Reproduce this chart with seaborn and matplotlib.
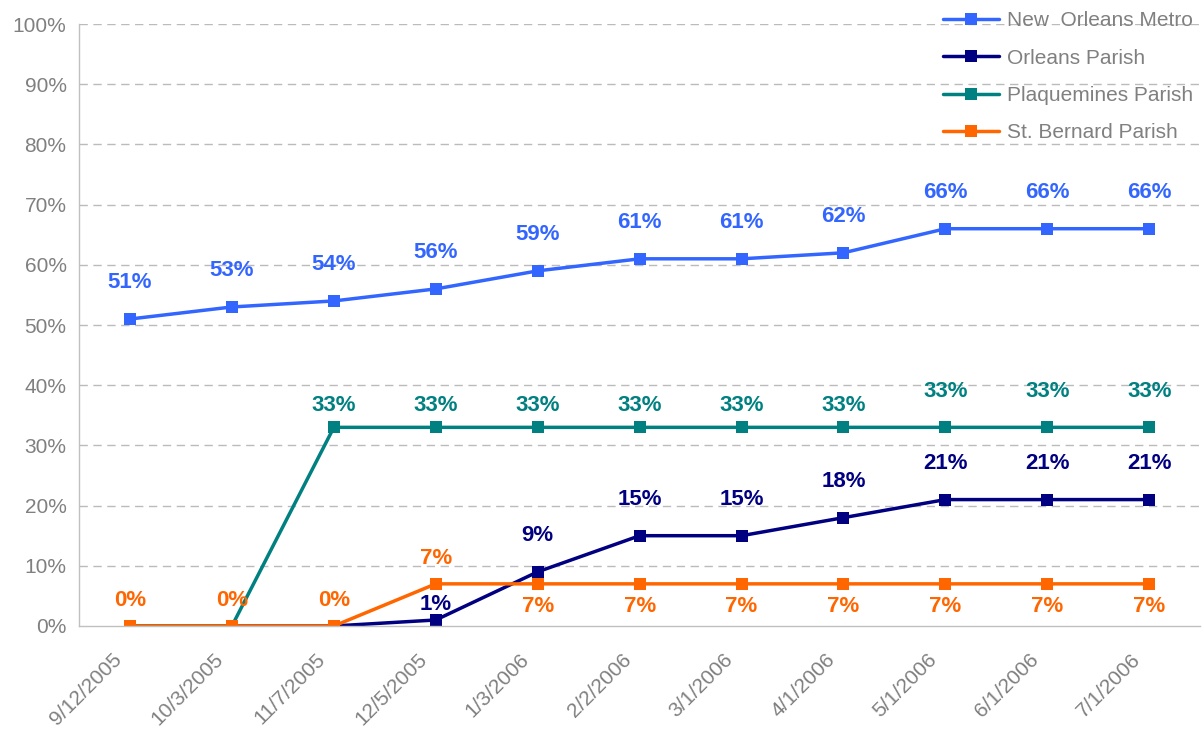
import pandas as pd
import seaborn as sns
import matplotlib.pyplot as plt
from matplotlib.ticker import FixedLocator, PercentFormatter
from matplotlib.transforms import ScaledTranslation

# survey dates (categorical x axis)
dates = ["9/12/2005", "10/3/2005", "11/7/2005", "12/5/2005", "1/3/2006",
         "2/2/2006", "3/1/2006", "4/1/2006", "5/1/2006", "6/1/2006", "7/1/2006"]

# percent values per area
metro = [51, 53, 54, 56, 59, 61, 61, 62, 66, 66, 66]
orleans = [0, 0, 0, 1, 9, 15, 15, 18, 21, 21, 21]
plaquemines = [0, 0, 33, 33, 33, 33, 33, 33, 33, 33, 33]
st_bernard = [0, 0, 0, 7, 7, 7, 7, 7, 7, 7, 7]

series_names = ["New  Orleans Metro", "Orleans Parish", "Plaquemines Parish", "St. Bernard Parish"]
series_values = [metro, orleans, plaquemines, st_bernard]
colors = ["#3366FF", "#000080", "#008080", "#FF6600"]

rows = []
for name, vals in zip(series_names, series_values):
    for i, v in enumerate(vals):
        rows.append({"pos": i, "value": v, "area": name})
df = pd.DataFrame(rows)

sns.set_style("white")
plt.rcParams["font.family"] = ["Liberation Sans", "DejaVu Sans"]

fig = plt.figure(figsize=(12.03, 7.29), dpi=100)
ax = fig.add_axes([0.0657, 0.1413, 0.932, 0.8257])

# horizontal dashed gridlines
for y in range(10, 101, 10):
    ax.axhline(y, color="#BBBBBB", lw=1, ls=(0, (6, 4)), zorder=0)

sns.lineplot(data=df, x="pos", y="value", hue="area", palette=colors,
             hue_order=series_names, marker="s", markersize=8.5, markeredgewidth=0,
             linewidth=2.5, sort=False, ax=ax, legend=True)

# data labels (which points are labelled and where, in points)
lab_kw = dict(ha="center", va="center", fontsize=16, fontweight="bold",
              textcoords="offset points")
for i, v in enumerate(metro):
    ax.annotate(f"{v}%", (i, v), xytext=(0, 26), color=colors[0], **lab_kw)
for i, v in enumerate(orleans):
    if i < 3:
        continue
    dy = 11 if i == 3 else 26
    ax.annotate(f"{v}%", (i, v), xytext=(0, dy), color=colors[1], **lab_kw)
for i, v in enumerate(plaquemines):
    if i < 2:
        continue
    dy = 16 if i < 8 else 26
    ax.annotate(f"{v}%", (i, v), xytext=(0, dy), color=colors[2], **lab_kw)
for i, v in enumerate(st_bernard):
    dy = 18 if i < 4 else -16
    ax.annotate(f"{v}%", (i, v), xytext=(0, dy), color=colors[3], **lab_kw)

ax.set_xlim(-0.5, len(dates) - 0.5)
ax.set_ylim(0, 100)
ax.yaxis.set_major_locator(FixedLocator(range(0, 101, 10)))
ax.yaxis.set_major_formatter(PercentFormatter(decimals=0))
ax.set_xticks(range(len(dates)))
ax.xaxis.set_minor_locator(FixedLocator([i - 0.5 for i in range(len(dates) + 1)]))
ax.tick_params(axis="x", which="major", length=0, pad=10, labelsize=15, labelcolor="#808080")
ax.tick_params(axis="x", which="minor", length=6, color="#C0C0C0", width=1)
ax.tick_params(axis="y", length=5, color="#C0C0C0", width=1, pad=4, labelsize=15, labelcolor="#808080")
ax.set_xticklabels(dates, rotation=45, ha="right", rotation_mode="anchor")
# nudge the rotated date labels down-left like the original
shift = ScaledTranslation(-0.18, -0.10, fig.dpi_scale_trans)
for lbl in ax.get_xticklabels():
    lbl.set_transform(lbl.get_transform() + shift)
ax.set_xlabel("")
ax.set_ylabel("")

for side in ["top", "right"]:
    ax.spines[side].set_visible(False)
for side in ["left", "bottom"]:
    ax.spines[side].set_color("#C0C0C0")
    ax.spines[side].set_linewidth(1)

handles, labels = ax.get_legend_handles_labels()
ax.get_legend().remove()
leg = fig.legend(handles, labels, loc="upper right", bbox_to_anchor=(0.995, 0.99),
                 frameon=False, fontsize=15, handlelength=2.7, handletextpad=0.35,
                 labelspacing=0.88, borderaxespad=0.0, borderpad=0.2)
for t in leg.get_texts():
    t.set_color("#808080")

fig.savefig("out.png", dpi=100)
